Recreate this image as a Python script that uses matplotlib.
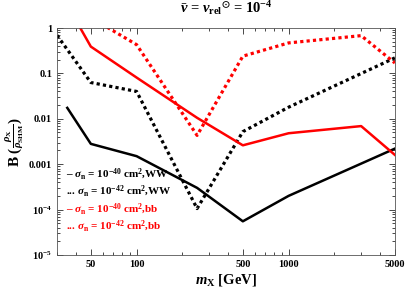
import numpy as np
import matplotlib
matplotlib.use('Agg')
import matplotlib.pyplot as plt
from matplotlib.ticker import FixedLocator, NullFormatter

plt.rcParams['font.family'] = ['Liberation Serif', 'DejaVu Serif']
plt.rcParams['font.weight'] = 'bold'
plt.rcParams['axes.labelweight'] = 'bold'
plt.rcParams['axes.titleweight'] = 'bold'
plt.rcParams['mathtext.fontset'] = 'custom'
plt.rcParams['mathtext.rm'] = 'Liberation Serif:bold'
plt.rcParams['mathtext.it'] = 'Liberation Serif:italic:bold'
plt.rcParams['mathtext.bf'] = 'Liberation Serif:bold'
plt.rcParams['mathtext.fallback'] = 'stix'

#### 数据 ####
m_ww40 = [35, 50, 100, 250, 500, 1000, 5000]
b_ww40 = [0.0174, 0.0028, 0.0015, 3.0e-4, 5.5e-5, 2.0e-4, 0.0022]

m_ww42 = [30, 50, 100, 250, 500, 1000, 5000]
b_ww42 = [0.69, 0.063, 0.040, 1.05e-4, 0.0052, 0.018, 0.22]

m_bb40 = [35, 50, 100, 250, 500, 1000, 3000, 5000]
b_bb40 = [3.2, 0.39, 0.081, 0.0105, 0.0026, 0.0048, 0.0069, 0.0016]

m_bb42 = [50, 100, 250, 500, 1000, 3000, 5000]
b_bb42 = [1.7, 0.43, 0.0043, 0.24, 0.47, 0.68, 0.17]

xticks = [50, 100, 500, 1000, 5000]
yticks = [1, 0.1, 0.01, 0.001, 1e-4, 1e-5]
ytick_labels = ['1', '0.1', '0.01', '0.001', r'$10^{-4}$', r'$10^{-5}$']

legend_texts = [r'– $\sigma_\mathrm{n}$ = $10^{-40}$ cm$^2$,WW',
                r'... $\sigma_\mathrm{n}$ = $10^{-42}$ cm$^2$,WW',
                r'– $\sigma_\mathrm{n}$ = $10^{-40}$ cm$^2$,bb',
                r'... $\sigma_\mathrm{n}$ = $10^{-42}$ cm$^2$,bb']
legend_colors = ['black', 'black', 'red', 'red']

#### 画图 ####
fig = plt.figure(figsize=(4.05, 2.89), dpi=100)
ax = fig.add_axes([0.141, 0.118, 0.834, 0.785])

dot = (0, (1, 1))
ax.plot(m_ww40, b_ww40, color='black', lw=1.8)
ax.plot(m_ww42, b_ww42, color='black', lw=2.3, linestyle=dot)
ax.plot(m_bb40, b_bb40, color='red', lw=1.8)
ax.plot(m_bb42, b_bb42, color='red', lw=2.3, linestyle=dot)

ax.set_xscale('log')
ax.set_yscale('log')
ax.set_xlim(30, 5000)
ax.set_ylim(1e-5, 1)

ax.xaxis.set_major_locator(FixedLocator(xticks))
ax.set_xticklabels([str(t) for t in xticks])
ax.xaxis.set_minor_locator(FixedLocator([30, 40, 60, 70, 80, 90, 200, 300, 400, 600, 700, 800, 900, 2000, 3000, 4000]))
ax.xaxis.set_minor_formatter(NullFormatter())
ax.yaxis.set_major_locator(FixedLocator(yticks))
ax.set_yticklabels(ytick_labels)
ax.tick_params(which='both', direction='in', top=True, right=True, labelsize=7.5, width=0.5)
ax.tick_params(which='major', length=4)
ax.tick_params(which='minor', length=2)
for sp in ax.spines.values():
    sp.set_linewidth(0.6)
    sp.set_color('#555555')

ax.set_xlabel(r'$m_\mathrm{X}$ [GeV]', fontsize=10.5, labelpad=2)
ax.set_ylabel(r'B ($\frac{\rho_\mathrm{X}}{\rho_\mathrm{SHM}}$)', fontsize=11, labelpad=2)
ax.set_title(r'$\bar{v}$ = $v_\mathrm{rel}{}^{\odot}$ = $10^{-4}$', fontsize=10.5, pad=11)

for i, (t, c) in enumerate(zip(legend_texts, legend_colors)):
    ax.text(0.025, 0.355 - i * 0.076, t, color=c, fontsize=8, transform=ax.transAxes, va='center')

fig.savefig('out.png', dpi=100)
